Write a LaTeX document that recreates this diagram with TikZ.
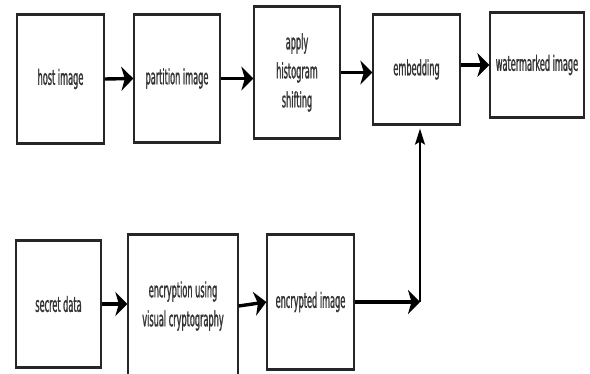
\documentclass[tikz,border=0pt]{standalone}
\usepackage{fontspec}
\setmainfont{DejaVu Sans}[FakeStretch=0.39,FakeBold=1]
\usetikzlibrary{arrows.meta}
\begin{document}
\begin{tikzpicture}[x=1pt,y=-1pt,
  stagebox/.style={draw=black!85, line width=1.3pt, fill=white, inner sep=0pt,
    align=center, font=\fontsize{21}{29}\selectfont, text=black!80},
  flow/.style={line width=3.4pt, -{Stealth[length=12pt,width=24pt,inset=3.5pt]}},
  thinflow/.style={line width=1.3pt, -{Stealth[length=16pt,width=10pt,inset=3pt]}},
  edge/.style={line width=3pt, draw=black!85}]
\useasboundingbox (0,0) rectangle (590,374);
\fill[white] (0,0) rectangle (590,374);
% top row
\node[stagebox, minimum width=87pt, minimum height=128pt] (host) at (60.5,79) {host image};
\node[stagebox, minimum width=86pt, minimum height=127pt] (part) at (177,78.5) {partition image};
\node[stagebox, minimum width=86pt, minimum height=131pt] (hist) at (297,72.5) {apply\\histogram\\shifting};
\node[stagebox, minimum width=87pt, minimum height=109pt] (emb) at (416.5,69.5) {embedding};
\node[stagebox, minimum width=94pt, minimum height=104pt] (wm) at (537,65) {watermarked image};
% bottom row
\node[stagebox, minimum width=85pt, minimum height=126pt] (secret) at (58.5,304) {secret data};
\node[stagebox, minimum width=110pt, minimum height=142pt] (enc) at (183,306) {encryption using\\visual cryptography};
\node[stagebox, minimum width=87pt, minimum height=134pt] (encimg) at (310.5,302) {encrypted image};
% heavier top and bottom edges
\foreach \n in {host,part,hist,emb,wm,secret,enc,encimg}{
  \draw[edge] (\n.north west) -- (\n.north east);
  \draw[edge] (\n.south west) -- (\n.south east);
}
\coordinate (join) at (420,302);
% connectors
\draw[flow] (host.east) -- (part.west);
\draw[flow] (part.east) -- (part.east -| hist.west);
\draw[flow] (hist.east) -- (hist.east -| emb.west);
\draw[flow] (wm.west -| emb.east) -- (wm.west);
\draw[flow] (secret.east) -- (secret.east -| enc.west);
\draw[flow] (enc.east) -- (encimg.west);
\draw[flow] (encimg.east) -- (join);
\draw[thinflow, shorten >=4pt] (join) -- (join |- emb.south);
\end{tikzpicture}
\end{document}
